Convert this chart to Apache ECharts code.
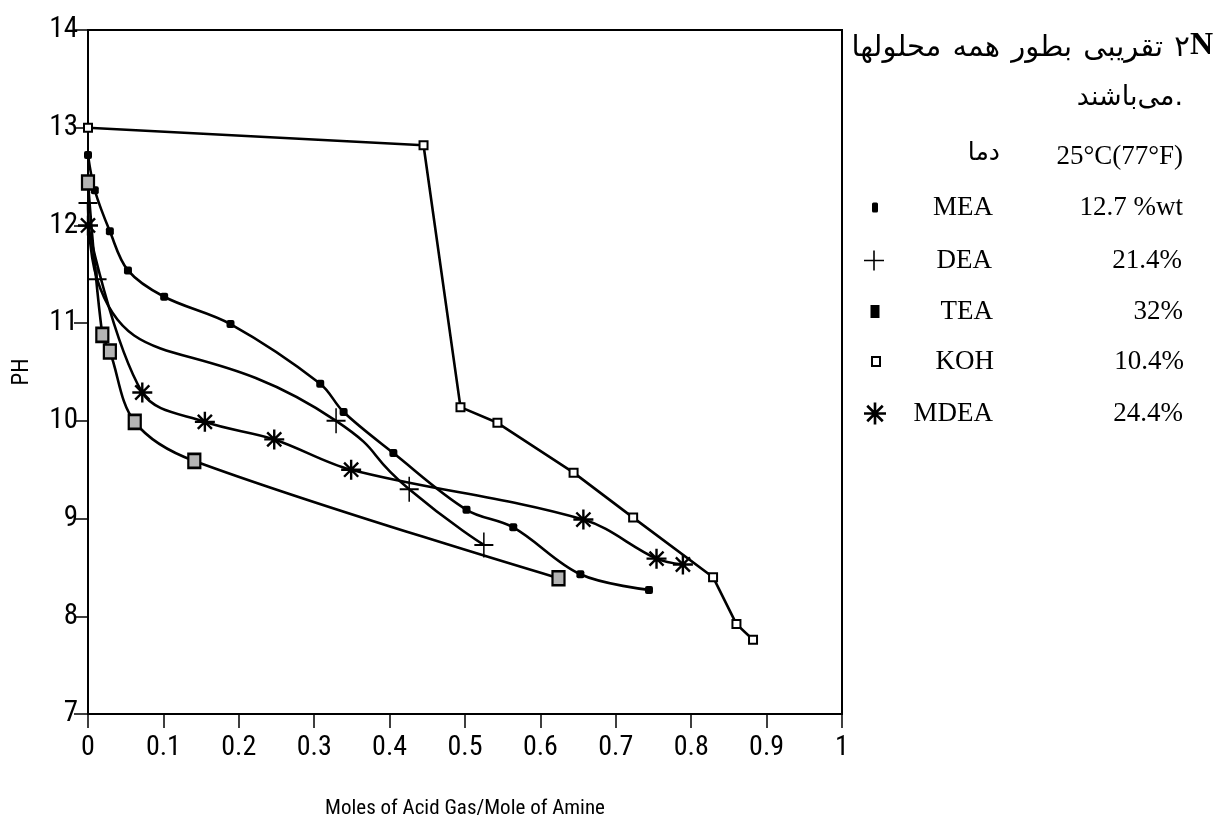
<!DOCTYPE html>
<html><head><meta charset="utf-8">
<script src="https://cdn.jsdelivr.net/npm/echarts@6/dist/echarts.min.js"></script>
<style>html,body{margin:0;padding:0;background:#fff}#c{width:1226px;height:831px}</style>
</head><body><div id="c"></div>
<script>
// ---- data ----
const xTickLabels = ['0','0.1','0.2','0.3','0.4','0.5','0.6','0.7','0.8','0.9','1'];
const yTickLabels = ['7','8','9','10','11','12','13','14'];
const seriesNames = ['MEA','DEA','TEA','KOH','MDEA'];
const concentrations = ['12.7 %wt','21.4%','32%','10.4%','24.4%'];
const meaData  = [[0,12.72],[0.009,12.36],[0.029,11.94],[0.053,11.54],[0.101,11.27],[0.189,10.99],[0.308,10.38],[0.339,10.09],[0.405,9.67],[0.502,9.09],[0.564,8.91],[0.653,8.43],[0.744,8.27]];
const deaData  = [[0,12.23],[0.012,11.45],[0.329,10.0],[0.426,9.30],[0.525,8.73]];
const teaData  = [[0,12.44],[0.019,10.88],[0.029,10.71],[0.062,9.99],[0.141,9.59],[0.624,8.39]];
const kohData  = [[0,13.0],[0.445,12.82],[0.494,10.14],[0.543,9.98],[0.644,9.47],[0.723,9.01],[0.829,8.40],[0.860,7.92],[0.882,7.76]];
const mdeaData = [[0,12.0],[0.072,10.29],[0.155,9.99],[0.247,9.81],[0.349,9.50],[0.657,8.99],[0.754,8.59],[0.789,8.53]];
const headerLine1Words = ['محلولها','همه','بطور','تقریبی'];
const headerLine1Tail = ['۲','N'];
const headerLine2 = 'می‌باشند';
const tempLabel = 'دما';
const tempValue = '25°C(77°F)';
const xAxisTitle = 'Moles of Acid Gas/Mole of Amine';
const yAxisTitle = 'PH';

// ---- fonts ----
const probe = document.createElement('canvas').getContext('2d');
function hasFont(name) {
  const s = 'abcdefghijklmnopqrstuvwxyz0123456789ABCDEFG';
  probe.font = '40px monospace'; const a = probe.measureText(s).width;
  probe.font = '40px "' + name + '", monospace'; const b = probe.measureText(s).width;
  return Math.abs(a - b) > 0.5;
}
const narrow = ['Liberation Sans Narrow','Arial Narrow','Nimbus Sans Narrow','Roboto Condensed','DejaVu Sans Condensed'].find(hasFont);
const AX_FONT = narrow ? '"' + narrow + '","Liberation Sans",Arial,sans-serif' : '"Liberation Sans",Arial,sans-serif';
const xLabelSize = narrow ? 28 : 24, yLabelSize = narrow ? 29 : 26, titleSize = narrow ? 21 : 20;
const SERIF = '"Liberation Serif","Times New Roman",serif';
const FA_FONT = '"DejaVu Sans","Noto Sans",sans-serif';

// ---- symbols ----
const plusPath = 'path://M0,9.2L20,9.2L20,10.8L0,10.8Z M9.2,0L10.8,0L10.8,20L9.2,20Z';
const starPath = 'path://M0,8.8L20,8.8L20,11.2L0,11.2Z M11.2,0L11.2,20L8.8,20L8.8,0Z ' +
  'M3.8,2.1L17.9,16.2L16.2,17.9L2.1,3.8Z M2.1,16.2L16.2,2.1L17.9,3.8L3.8,17.9Z';

const chart = echarts.init(document.getElementById('c'), null, {renderer:'canvas'});

const lineBase = {type:'line', smooth:0.35, lineStyle:{color:'#000', width:2.6}, itemStyle:{color:'#000'}, emphasis:{disabled:true}, z:2};

const series = [
  Object.assign({}, lineBase, {name:seriesNames[0], data:meaData, symbol:'roundRect', symbolSize:8}),
  Object.assign({}, lineBase, {name:seriesNames[1], data:deaData, smooth:0.6, symbol:plusPath, symbolSize:[19,25]}),
  Object.assign({}, lineBase, {name:seriesNames[2], data:teaData, smooth:0.35, symbol:'rect', symbolSize:[12,14],
     itemStyle:{color:'#b4b4b4', borderColor:'#000', borderWidth:2.4}}),
  Object.assign({}, lineBase, {name:seriesNames[3], data:kohData, smooth:false, symbol:'rect', symbolSize:8,
     itemStyle:{color:'#fff', borderColor:'#000', borderWidth:2}}),
  Object.assign({}, lineBase, {name:seriesNames[4], data:mdeaData, symbol:starPath, symbolSize:20})
];

// legend: one component per row so each icon keeps its own size
const legendRows = [
  {icon:'roundRect', w:6, h:10, y:209},
  {icon:plusPath, w:22, h:20, y:262},
  {icon:'rect', w:9, h:13, y:313, itemStyle:{color:'#000', borderWidth:0}},
  {icon:'rect', w:8, h:9, y:363, itemStyle:{color:'#fff', borderColor:'#000', borderWidth:2}},
  {icon:starPath, w:22, h:22, y:415}
];
const iconCx = 875, nameRight = 993, pctRight = 1183, rowH = 30, legendSize = 27;
const legends = legendRows.map((r, i) => {
  const textStart = iconCx + r.w/2 + 5;
  const d = {name:seriesNames[i], icon:r.icon};
  if (r.itemStyle) d.itemStyle = r.itemStyle;
  return {
    data:[d], orient:'vertical', left: iconCx - r.w/2, top: r.y - Math.max(r.h, rowH)/2,
    itemWidth:r.w, itemHeight:r.h, padding:0, selectedMode:false,
    formatter: () => '{n|' + seriesNames[i] + '}{p|' + concentrations[i] + '}',
    textStyle:{rich:{
      n:{width: nameRight - textStart, align:'right', fontFamily:SERIF, fontSize:legendSize, color:'#000', lineHeight:rowH},
      p:{width: pctRight - nameRight, align:'right', fontFamily:SERIF, fontSize:legendSize, color:'#000', lineHeight:rowH}
    }}
  };
});

// ---- header (words laid out one by one, left to right as in the picture) ----
const faFont1 = '29px ' + FA_FONT, nFont = 'bold 32px ' + SERIF;
function textW(t, f) { probe.font = f; return probe.measureText(t).width; }
const header = [];
let xr = 1213; const y1 = 46;
header.push({type:'text', x:xr, y:y1, style:{text:headerLine1Tail[1], font:nFont, fill:'#000', align:'right', verticalAlign:'middle'}});
xr -= textW(headerLine1Tail[1], nFont);
header.push({type:'text', x:xr, y:y1 + 2, style:{text:headerLine1Tail[0], font:faFont1, fill:'#000', align:'right', verticalAlign:'middle'}});
xr -= textW(headerLine1Tail[0], faFont1);
const spW = textW(' ', faFont1) + 2;
for (let i = headerLine1Words.length - 1; i >= 0; i--) {
  xr -= spW;
  header.push({type:'text', x:xr, y:y1 + 2, style:{text:headerLine1Words[i], font:faFont1, fill:'#000', align:'right', verticalAlign:'middle'}});
  xr -= textW(headerLine1Words[i], faFont1);
}
const faFont2 = '27px ' + FA_FONT;
header.push({type:'text', x:1183, y:98, style:{text:'.', font:faFont2, fill:'#000', align:'right', verticalAlign:'middle'}});
header.push({type:'text', x:1183 - textW('.', faFont2), y:98, style:{text:headerLine2, font:faFont2, fill:'#000', align:'right', verticalAlign:'middle'}});
header.push({type:'text', x:1000, y:153, style:{text:tempLabel, font:'25px ' + FA_FONT, fill:'#000', align:'right', verticalAlign:'middle'}});
header.push({type:'text', x:1183, y:157, style:{text:tempValue, font:'27px ' + SERIF, fill:'#000', align:'right', verticalAlign:'middle'}});

chart.setOption({
  animation:false,
  backgroundColor:'#fff',
  grid:{left:88, top:30, width:754, height:684, show:true, borderColor:'#000', borderWidth:2, backgroundColor:'transparent'},
  xAxis:{type:'value', min:0, max:1, interval:0.1,
    name:xAxisTitle, nameLocation:'middle', nameGap:84,
    nameTextStyle:{fontFamily:AX_FONT, fontSize:titleSize, color:'#000'},
    axisLine:{show:true, lineStyle:{color:'#000', width:2}},
    axisTick:{show:true, length:14, lineStyle:{color:'#000', width:1.5}},
    axisLabel:{margin:20, fontFamily:AX_FONT, fontSize:xLabelSize, color:'#000',
      formatter: v => xTickLabels[Math.round(v*10)]},
    splitLine:{show:false}},
  yAxis:{type:'value', min:7, max:14, interval:1,
    name:yAxisTitle, nameLocation:'middle', nameGap:54, nameRotate:90,
    nameTextStyle:{fontFamily:AX_FONT, fontSize:23, color:'#000'},
    axisLine:{show:true, lineStyle:{color:'#000', width:2}},
    axisTick:{show:true, length:14, lineStyle:{color:'#000', width:1.5}},
    axisLabel:{margin:10, fontFamily:AX_FONT, fontSize:yLabelSize, color:'#000',
      formatter: v => yTickLabels[Math.round(v) - 7]},
    splitLine:{show:false}},
  legend: legends,
  series: series,
  graphic: header
});
</script></body></html>
